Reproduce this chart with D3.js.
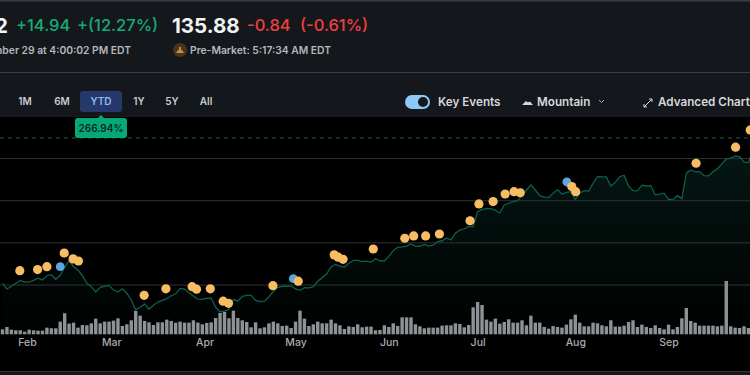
<!DOCTYPE html>
<html lang="en">
<head>
  <meta charset="UTF-8" />
  <title>YTD chart</title>
  <style>
    html, body { margin: 0; padding: 0; background: #14171c; overflow: hidden; }
    svg { display: block; font-family: Inter, sans-serif; }
    .axis path, .axis line { display: none; }
    .axis text { fill: #a9adb2; font-size: 10.5px; font-weight: 500; font-family: Inter, sans-serif; }
  </style>
</head>
<body>
  <svg id="chart" width="750" height="375"></svg>

  <script src="https://d3js.org/d3.v7.min.js"></script>
  <script>
    // one value per trading day
    const prices = [
      60.8, 58.1, 59.4, 60.8, 62.2, 61.4, 61.4, 62.2, 63.2, 62.4,
      64.4, 64.9, 62.7, 64.6, 68.4, 71.7, 68.7, 67.1, 64.4, 60.8,
      59.2, 56.7, 58.9, 59.4, 59.7, 57.6, 56.8, 58.2, 56.1, 52.9,
      48.1, 49.4, 51.0, 48.5, 50.4, 51.9, 52.7, 53.5, 54.9, 55.7,
      58.4, 58.1, 56.3, 54.8, 53.3, 53.2, 53.7, 53.7, 49.4, 47.3,
      47.6, 48.5, 53.2, 52.3, 54.6, 55.1, 55.1, 52.7, 52.1, 52.3,
      54.4, 57.0, 58.9, 59.4, 59.4, 59.5, 58.2, 57.5, 58.7, 58.6,
      59.2, 61.8, 63.5, 65.2, 68.7, 69.8, 69.0, 68.4, 70.3, 71.7,
      71.7, 71.1, 71.3, 70.9, 72.5, 71.5, 71.4, 73.6, 76.3, 77.9,
      78.1, 78.5, 79.5, 78.5, 78.4, 79.3, 78.5, 78.9, 80.6, 81.0,
      82.3, 81.4, 84.6, 86.1, 86.7, 87.7, 87.7, 94.8, 95.9, 96.3,
      96.3, 95.4, 94.2, 98.0, 98.8, 99.6, 100.0, 102.4, 105.1, 107.5,
      105.1, 102.4, 101.7, 101.5, 103.6, 105.3, 103.2, 104.0, 104.3, 100.7,
      103.6, 104.8, 104.5, 108.3, 111.4, 111.3, 111.3, 107.0, 108.6, 111.4,
      112.1, 107.0, 104.8, 104.7, 107.4, 107.0, 107.2, 102.8, 103.1, 103.6,
      100.7, 100.5, 102.4, 101.0, 113.1, 114.6, 113.8, 113.8, 111.9, 111.8,
      113.8, 115.2, 117.5, 119.9, 120.2, 121.3, 120.9, 118.3, 118.1, 124.1
    ];
    const volumes = [
      15, 22, 14, 12, 12, 8, 14, 12, 11, 11,
      20, 18, 18, 38, 63, 32, 35, 20, 28, 27,
      33, 47, 33, 38, 38, 41, 48, 25, 30, 42,
      70, 56, 40, 36, 28, 36, 36, 44, 40, 35,
      38, 35, 35, 42, 35, 30, 34, 36, 49, 64,
      67, 48, 71, 49, 42, 37, 21, 36, 18, 21,
      33, 38, 33, 25, 26, 19, 38, 71, 47, 25,
      30, 38, 33, 33, 44, 33, 27, 16, 24, 22,
      30, 21, 23, 23, 12, 13, 27, 22, 33, 25,
      51, 51, 51, 30, 24, 18, 20, 20, 20, 26,
      27, 27, 33, 31, 21, 28, 81, 97, 88, 44,
      38, 47, 32, 37, 45, 35, 35, 42, 27, 56,
      35, 35, 22, 17, 25, 22, 20, 29, 45, 59,
      35, 24, 24, 35, 33, 27, 24, 42, 23, 23,
      26, 37, 42, 22, 29, 22, 19, 27, 19, 15,
      29, 15, 22, 48, 79, 40, 35, 26, 26, 26,
      26, 24, 26, 160, 24, 20, 19, 24, 19, 20
    ];
    const gridLevels = [60, 80, 100, 120];
    const prevClose = 129.8;

    const monthLabels = ["Feb", "Mar", "Apr", "May", "Jun", "Jul", "Aug", "Sep"];
    const monthDays = [5.5, 24.5, 45.5, 66, 87, 107, 129, 150];

    // key events: trading day and price
    const earningsDays = [3.9, 7.9, 10, 13.9, 15.9, 17.1, 31.9, 36.8, 42.7, 43.7, 46.8, 49.7, 50.9, 60.9, 66.6, 74.7, 75.6, 76.7, 83.5, 90.6, 92.6, 95.3, 98.4, 105.3, 107.3, 110.5, 113.2, 115.2, 116.6, 128.2, 129.1, 156.2, 165.1, 168.4];
    const earningsPrices = [66.8, 67.3, 68.7, 75.2, 72.4, 71.4, 55.1, 58.2, 59.2, 58, 58.2, 52.3, 51.3, 59.7, 61.8, 74.3, 73.2, 72.2, 77.1, 82.2, 83.3, 83.3, 84.2, 90.5, 98.5, 99.6, 103.2, 104.3, 103.8, 106.7, 104.3, 117.8, 125.4, 133.6];
    const dividendDays = [13, 65.5, 127.1];
    const dividendPrices = [68.7, 63, 108.9];

    const rangeButtons = ["1M", "6M", "YTD", "1Y", "5Y", "All"];
    const rangeCenters = [25, 62, 101, 139, 172, 206];

    const svg = d3.select("#chart");
    const plotTop = 117, plotBottom = 371;

    const x = d3.scaleLinear().domain([0, 169]).range([2.5, 752.9]);
    const y = d3.scaleLinear().domain([60, 120]).range([285, 158.6]);
    const v = d3.scaleLinear().domain([0, 160]).range([334.3, 281]);
    const barWidth = 3.4;

    // header bits
    svg.append("rect").attr("width", 750).attr("height", 1.5).attr("fill", "#3a3d42");
    svg.append("rect").attr("y", 72).attr("width", 750).attr("height", 1).attr("fill", "#3a3d42");

    const defs = svg.append("defs");
    const clip = defs.append("clipPath").attr("id", "plotClip");
    clip.append("rect").attr("x", 0).attr("y", plotTop).attr("width", 750).attr("height", plotBottom - plotTop);
    const grad = defs.append("linearGradient").attr("id", "areaFill").attr("x1", 0).attr("x2", 0).attr("y1", 0).attr("y2", 1);
    grad.append("stop").attr("offset", "0%").attr("stop-color", "#0c3a30").attr("stop-opacity", 0.4);
    grad.append("stop").attr("offset", "100%").attr("stop-color", "#0c3a30").attr("stop-opacity", 0);

    svg.append("rect").attr("y", plotTop).attr("width", 750).attr("height", plotBottom - plotTop).attr("fill", "#000");

    const plot = svg.append("g").attr("clip-path", "url(#plotClip)");

    plot.append("path")
      .datum(prices)
      .attr("fill", "url(#areaFill)")
      .attr("d", d3.area().x((d, i) => x(i)).y0(340).y1(d => y(d)));

    plot.selectAll(".grid")
      .data(gridLevels)
      .join("line")
      .attr("x1", 0).attr("x2", 750)
      .attr("y1", d => y(d)).attr("y2", d => y(d))
      .attr("stroke", "#2f3235")
      .attr("stroke-width", 1);

    plot.append("line")
      .attr("x1", 0).attr("x2", 750)
      .attr("y1", y(prevClose)).attr("y2", y(prevClose))
      .attr("stroke", "#126650")
      .attr("stroke-dasharray", "4 4");

    plot.selectAll(".vol")
      .data(volumes)
      .join("rect")
      .attr("x", (d, i) => x(i) - barWidth / 2)
      .attr("y", d => v(d))
      .attr("width", barWidth)
      .attr("height", d => v(0) - v(d))
      .attr("fill", "#8e9296");

    plot.append("path")
      .datum(prices)
      .attr("fill", "none")
      .attr("stroke", "#0d5f4e")
      .attr("stroke-width", 1.3)
      .attr("d", d3.line().x((d, i) => x(i)).y(d => y(d)));

    plot.selectAll(".dividend")
      .data(dividendDays)
      .join("circle")
      .attr("cx", d => x(d))
      .attr("cy", (d, i) => y(dividendPrices[i]))
      .attr("r", 4.4)
      .attr("fill", "#5ba6e0");

    plot.selectAll(".earning")
      .data(earningsDays)
      .join("circle")
      .attr("cx", d => x(d))
      .attr("cy", (d, i) => y(earningsPrices[i]))
      .attr("r", 4.6)
      .attr("fill", "#f8bd63");

    svg.append("g")
      .attr("class", "axis")
      .attr("transform", "translate(0,335)")
      .call(d3.axisBottom(x).tickValues(monthDays).tickSize(0).tickPadding(4)
        .tickFormat((d, i) => monthLabels[i]));

    svg.append("rect").attr("y", plotBottom).attr("width", 750).attr("height", 1).attr("fill", "#33363a");

    // quote line
    function label(txt, px, py, size, weight, fill, anchor) {
      return svg.append("text")
        .attr("x", px).attr("y", py)
        .attr("font-size", size).attr("font-weight", weight)
        .attr("fill", fill)
        .attr("text-anchor", anchor || "start")
        .text(txt);
    }
    label("136.72", 8, 33, 20.5, 700, "#f1f2f3", "end");
    label("+14.94", 16, 31, 16.5, 500, "#14ad73");
    label("+(12.27%)", 77, 31, 16.5, 500, "#14ad73");
    label("135.88", 172, 33, 20.5, 700, "#f1f2f3");
    label("-0.84", 247, 31, 16.5, 500, "#ef3f3f");
    label("(-0.61%)", 300, 31, 16.5, 500, "#ef3f3f");
    label("September 29 at 4:00:02 PM EDT", 131, 53.5, 10.3, 600, "#b4b7bb", "end");
    label("Pre-Market: 5:17:34 AM EDT", 190, 53.5, 10.3, 600, "#b4b7bb");
    svg.append("circle").attr("cx", 180).attr("cy", 50).attr("r", 7).attr("fill", "#4a3320");
    svg.append("path").attr("d", "M176 53h8l-2 -3h-1v-3h-2v3h-1z").attr("fill", "#c98a3a");

    // range buttons
    svg.append("rect").attr("x", 80).attr("y", 91).attr("width", 42).attr("height", 21).attr("rx", 3).attr("fill", "#26396a");
    svg.selectAll(".range")
      .data(rangeButtons)
      .join("text")
      .attr("x", (d, i) => rangeCenters[i])
      .attr("y", 105)
      .attr("text-anchor", "middle")
      .attr("font-size", 10)
      .attr("font-weight", 600)
      .attr("fill", d => d === "YTD" ? "#8fb8f0" : "#c9ccd0")
      .text(d => d);

    // return badge
    svg.append("path").attr("d", "M98 118l3 -3l3 3z").attr("fill", "#06a877");
    svg.append("rect").attr("x", 75).attr("y", 118).attr("width", 52).attr("height", 20).attr("rx", 3).attr("fill", "#06a877");
    label("266.94%", 101, 132, 10, 600, "#06281f", "middle");

    // right hand controls
    svg.append("rect").attr("x", 405).attr("y", 95).attr("width", 25).attr("height", 14).attr("rx", 7).attr("fill", "#8cc8f8");
    svg.append("circle").attr("cx", 423).attr("cy", 102).attr("r", 5).attr("fill", "#14171c");
    label("Key Events", 438, 106, 11.7, 600, "#d6d8da");
    svg.append("path").attr("d", "M522 105l4 -4l2 1.5l2 -1l3 3.5z").attr("fill", "#d6d8da");
    label("Mountain", 537, 106, 11.7, 600, "#d6d8da");
    svg.append("path").attr("d", "M599 100l2.5 2.5l2.5 -2.5").attr("fill", "none").attr("stroke", "#a9adb2");
    svg.append("path").attr("d", "M644 107l8 -8M649 99h3v3M644 104v3h3").attr("fill", "none").attr("stroke", "#d6d8da");
    label("Advanced Chart", 658, 106, 11.7, 600, "#d6d8da");
  </script>
</body>
</html>
